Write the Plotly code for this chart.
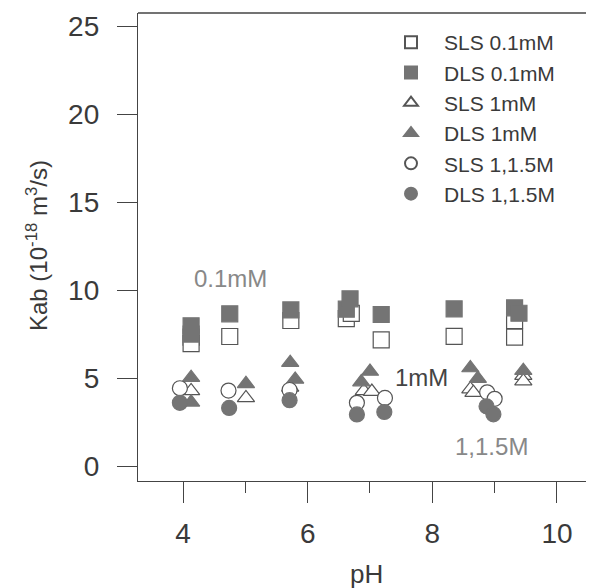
import plotly.graph_objects as go

# ---- data ----
sls01_ph = [4.13, 4.13, 4.75, 5.73, 6.62, 6.70, 7.18, 8.35, 9.32, 9.32]
sls01_k = [7.35, 6.98, 7.39, 8.30, 8.40, 8.70, 7.20, 7.40, 8.30, 7.36]

dls01_ph = [4.13, 4.13, 4.75, 5.73, 6.62, 6.68, 7.18, 8.35, 9.32, 9.39]
dls01_k = [8.00, 7.53, 8.68, 8.90, 8.94, 9.53, 8.64, 8.96, 9.02, 8.71]

sls1_ph = [4.13, 5.01, 5.72, 6.90, 7.03, 8.61, 8.66, 9.46, 9.46]
sls1_k = [4.30, 3.90, 4.50, 4.30, 4.26, 4.40, 4.20, 5.17, 4.85]

dls1_ph = [4.13, 4.13, 5.01, 5.72, 5.80, 6.86, 7.00, 8.61, 8.73, 9.46]
dls1_k = [5.05, 3.65, 4.70, 5.90, 4.95, 4.80, 5.40, 5.60, 5.00, 5.45]

sls15_ph = [3.95, 4.73, 5.71, 6.79, 7.24, 8.88, 9.00]
sls15_k = [4.45, 4.32, 4.35, 3.62, 3.90, 4.22, 3.85]

dls15_ph = [3.95, 4.74, 5.71, 6.79, 7.23, 8.87, 8.98]
dls15_k = [3.62, 3.33, 3.77, 2.96, 3.10, 3.42, 2.97]

series_names = ["SLS 0.1mM", "DLS 0.1mM", "SLS 1mM", "DLS 1mM", "SLS 1,1.5M", "DLS 1,1.5M"]
x_tick_vals = [4, 6, 8, 10]
x_minor_vals = [5, 7, 9]
y_tick_vals = [0, 5, 10, 15, 20, 25]
x_range = [3.278, 10.594]
y_range = [-0.82, 25.77]

FONT = "Liberation Sans, Arial, Helvetica, sans-serif"
FILL = "#747474"
EDGE = "#555555"
TXT = "#3a3a3a"
AX = "#444444"

# page body has an 8px margin -> size the figure so the plot lands where the reference has it
PAGE_OFF = 8
FIG_W, FIG_H = 594 - PAGE_OFF, 588 - PAGE_OFF
L, T = 138 - PAGE_OFF, 13 - PAGE_OFF
R_EDGE, B_EDGE = 594 - PAGE_OFF, 481 - PAGE_OFF
W, H = R_EDGE - L, B_EDGE - T


def paper_x(page_x):
    return (page_x - PAGE_OFF - L) / W


def paper_y(page_y):
    return (B_EDGE - (page_y - PAGE_OFF)) / H


fig = go.Figure()


def add(xs, ys, name, symbol, size, filled):
    fig.add_trace(go.Scatter(
        x=xs, y=ys, mode="markers", name=name,
        marker=dict(symbol=symbol, size=size,
                    color=FILL if filled else "white",
                    line=dict(color=FILL if filled else EDGE, width=1.2)),
    ))


add(sls01_ph, sls01_k, series_names[0], "square", 16, False)
add(dls01_ph, dls01_k, series_names[1], "square", 16, True)
add(sls1_ph, sls1_k, series_names[2], "triangle-up", 15, False)
add(dls1_ph, dls1_k, series_names[3], "triangle-up", 15, True)
add(sls15_ph, sls15_k, series_names[4], "circle", 15, False)
add(dls15_ph, dls15_k, series_names[5], "circle", 15, True)

fig.update_layout(
    width=FIG_W, height=FIG_H,
    margin=dict(l=L, r=FIG_W - R_EDGE, t=T, b=FIG_H - B_EDGE, autoexpand=False),
    paper_bgcolor="white", plot_bgcolor="white",
    font=dict(family=FONT, color=TXT),
    showlegend=True,
    legend=dict(x=paper_x(378), y=paper_y(22), xanchor="left", yanchor="top",
                bgcolor="rgba(0,0,0,0)", font=dict(size=21, color=TXT),
                itemwidth=56, itemsizing="constant", tracegroupgap=0),
    xaxis=dict(range=x_range, tickvals=x_tick_vals,
               showgrid=False, zeroline=False, showline=True,
               linecolor=AX, linewidth=1.3,
               ticks="outside", ticklen=21, tickwidth=1.3, tickcolor=AX,
               tickfont=dict(size=28, color=TXT), ticklabelstandoff=6,
               minor=dict(tickvals=x_minor_vals, ticks="outside", ticklen=11,
                          tickwidth=1.3, tickcolor=AX, showgrid=False)),
    yaxis=dict(range=y_range, tickvals=y_tick_vals,
               showgrid=False, zeroline=False, showline=True,
               linecolor=AX, linewidth=1.3,
               ticks="outside", ticklen=20, tickwidth=1.3, tickcolor=AX,
               tickfont=dict(size=28, color=TXT), ticklabelstandoff=12),
    shapes=[dict(type="line", xref="paper", yref="paper", x0=0, x1=1, y0=1, y1=1,
                 line=dict(color=AX, width=1.3))],
)


def data_x(page_x):
    return x_range[0] + paper_x(page_x) * (x_range[1] - x_range[0])


def data_y(page_y):
    return y_range[0] + paper_y(page_y) * (y_range[1] - y_range[0])


fig.update_layout(annotations=[
    dict(text="pH", xref="paper", yref="paper", x=0.5, y=paper_y(574),
         xanchor="center", yanchor="middle", showarrow=False,
         font=dict(size=26, color=TXT)),
    dict(text="Kab (10<sup>-18</sup> m<sup>3</sup>/s)", xref="paper", yref="paper",
         x=paper_x(37), y=paper_y(246), xanchor="center", yanchor="middle",
         showarrow=False, textangle=-90, font=dict(size=24, color=TXT)),
    dict(text="0.1mM", xref="x", yref="y", x=data_x(230), y=data_y(278),
         showarrow=False, font=dict(size=24, color="#888888")),
    dict(text="1mM", xref="x", yref="y", x=data_x(421), y=data_y(377),
         showarrow=False, font=dict(size=24, color="#444444")),
    dict(text="1,1.5M", xref="x", yref="y", x=data_x(491), y=data_y(446),
         showarrow=False, font=dict(size=24, color="#888888")),
])

fig.write_html("out.html")
